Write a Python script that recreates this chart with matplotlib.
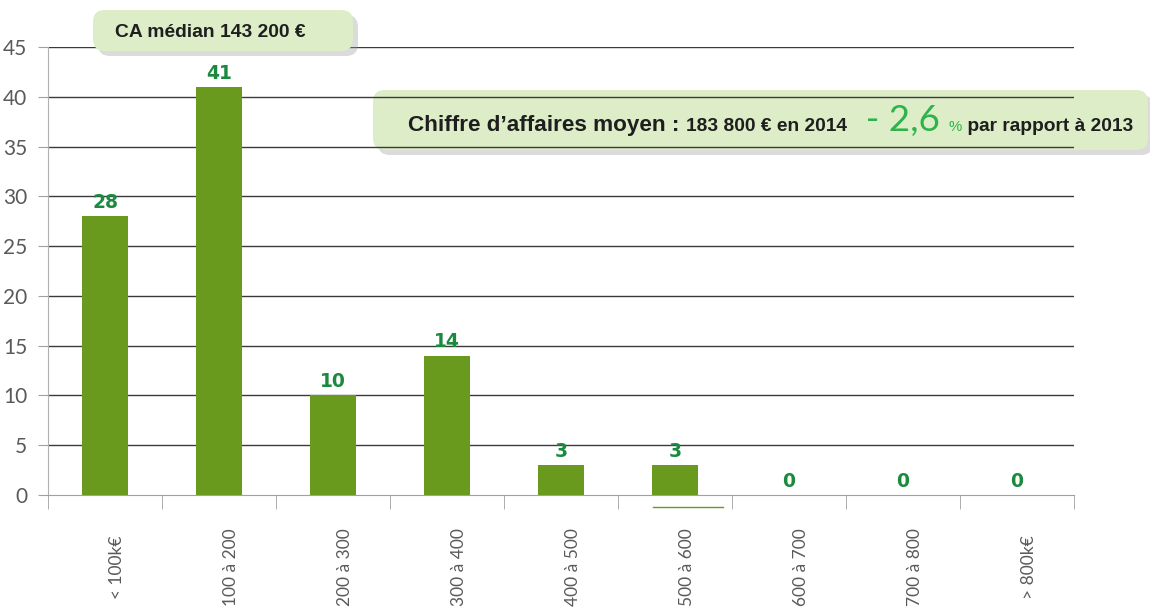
import matplotlib.pyplot as plt
from matplotlib.patches import FancyBboxPatch
from matplotlib.transforms import IdentityTransform, ScaledTranslation

categories = ['< 100k€', '100 à 200', '200 à 300', '300 à 400', '400 à 500',
              '500 à 600', '600 à 700', '700 à 800', '> 800k€']
values = [28, 41, 10, 14, 3, 3, 0, 0, 0]
yticks = [0, 5, 10, 15, 20, 25, 30, 35, 40, 45]

W, H = 1150, 609
bar_green = '#6a9a1d'
label_green = '#1b8a3f'
box_green = '#dcedc8'
light_green = '#2db34a'
dark = '#1e1e1e'
thin = ['Lato', 'DejaVu Sans']
narrow = ['Liberation Sans', 'DejaVu Sans']

fig = plt.figure(figsize=(W / 100, H / 100), dpi=100)
fig.patch.set_facecolor('white')
ax = fig.add_axes([48 / W, 1 - 495 / H, (1074 - 48) / W, (495 - 47) / H])
ax.set_facecolor('none')

x = list(range(len(categories)))
ax.bar(x, values, width=0.4, color=bar_green, zorder=3)
for xi, v in zip(x, values):
    ax.annotate(str(v), (xi, v), xytext=(0, 3), textcoords='offset points',
                ha='center', va='bottom', fontsize=13.5, fontweight='bold',
                color=label_green, zorder=4)

ax.set_xlim(-0.5, len(categories) - 0.5)
ax.set_ylim(0, 45)
ax.set_yticks(yticks)
for y in yticks[1:]:
    ax.axhline(y, color='#3a3a3a', lw=1, zorder=2)

for s in ['top', 'right']:
    ax.spines[s].set_visible(False)
ax.spines['left'].set_color('#b0b0b0')
ax.spines['bottom'].set_color('#a0a0a0')
ax.spines['left'].set_zorder(2)

ax.tick_params(axis='y', length=7, color='#a0a0a0', labelcolor='#5a5a5a',
               labelsize=15, pad=8)
for lab in ax.get_yticklabels():
    lab.set_family(thin)

# category boundaries carry the tick marks, centers carry the labels
ax.set_xticks([i - 0.5 for i in range(len(categories) + 1)], minor=True)
ax.tick_params(axis='x', which='minor', length=10, color='#a0a0a0')
ax.set_xticks(x)
ax.set_xticklabels(categories, rotation=90, va='center', ha='center',
                   fontsize=12.5, color='#5a5a5a')
ax.tick_params(axis='x', which='major', length=0, pad=52)
for lab in ax.get_xticklabels():
    lab.set_family(thin)
    lab.set_transform(lab.get_transform() + ScaledTranslation(0.12, 0, fig.dpi_scale_trans))

# odd little underline below the 500 à 600 bar
ax.plot([4.81, 5.42], [-1.2, -1.2], color=bar_green, lw=1, clip_on=False, zorder=3)

ident = IdentityTransform()
renderer = fig.canvas.get_renderer()


def box(x0, y0, x1, y1, z):
    sh = FancyBboxPatch((x0 + 5, H - y1 - 5), x1 - x0, y1 - y0,
                        boxstyle='round,pad=0,rounding_size=12',
                        transform=ident, fc='#9a9a9a', ec='none', alpha=0.35, zorder=z)
    bx = FancyBboxPatch((x0, H - y1), x1 - x0, y1 - y0,
                        boxstyle='round,pad=0,rounding_size=12',
                        transform=ident, fc=box_green, ec='none', zorder=z)
    fig.patches.extend([sh, bx])


def line_of_text(pieces, x0, x1, ybase):
    # lay the pieces side by side, then rescale so they span x0..x1
    arts = []
    for scale in (None, 'fit'):
        for a in arts:
            a.remove()
        arts = []
        xpos = x0
        for txt, fs, col, fw, fam in pieces:
            size = fs if scale is None else fs * k
            t = fig.text(xpos, H - ybase, txt, transform=ident, fontsize=size, color=col,
                         fontweight=fw, family=fam, va='baseline', ha='left', zorder=6)
            xpos = t.get_window_extent(renderer).x1
            arts.append(t)
        k = (x1 - x0) / (xpos - x0)


box(93, 10, 353, 51, 5)
box(373, 90, 1148, 150, -1)

line_of_text([('CA médian 143 200 €', 14, dark, 'bold', narrow)], 115, 306, 37)

line_of_text([
    ('Chiffre d’affaires moyen : ', 16.5, dark, 'bold', narrow),
    ('183 800 € en 2014', 14, dark, 'bold', narrow),
    ('  - 2,6 ', 27, light_green, 'normal', thin),
    ('%', 11, light_green, 'normal', narrow),
    (' par rapport à 2013', 14, dark, 'bold', narrow),
], 408, 1132, 131)

fig.savefig('out.png', dpi=100)
